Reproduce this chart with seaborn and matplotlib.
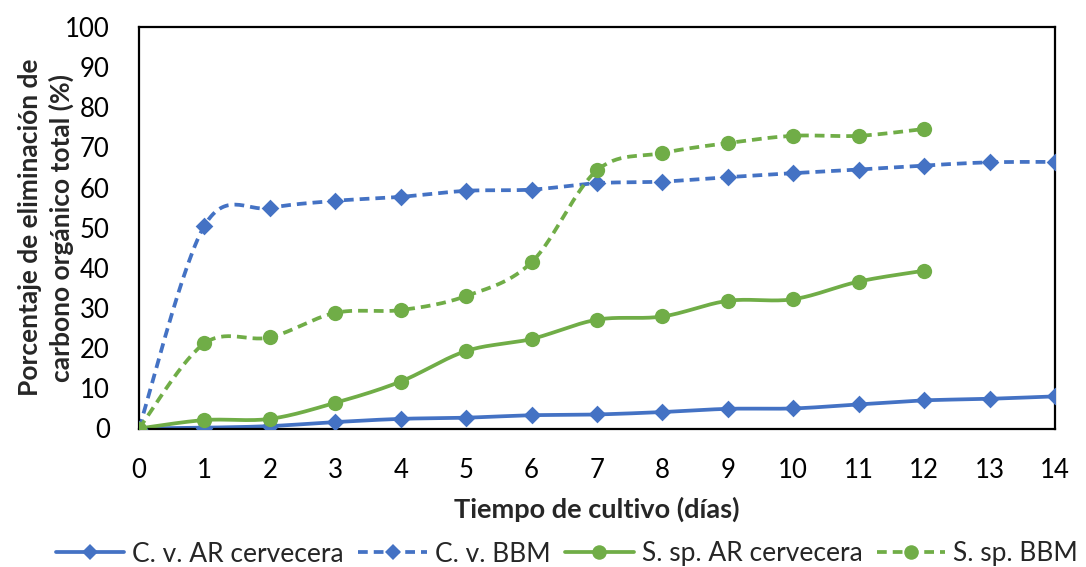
import numpy as np
import pandas as pd
import matplotlib
matplotlib.use("Agg")
import matplotlib.pyplot as plt
from matplotlib.lines import Line2D
import seaborn as sns

# Culture time (days) and TOC removal (%) for each strain / medium
dias_cv = [0, 1, 2, 3, 4, 5, 6, 7, 8, 9, 10, 11, 12, 13, 14]
cv_ar = [0, 0.2, 0.6, 1.6, 2.4, 2.7, 3.3, 3.5, 4.1, 4.9, 5.0, 6.0, 7.0, 7.4, 8.0]
cv_bbm = [0, 50.5, 54.9, 56.7, 57.7, 59.2, 59.5, 61.1, 61.5, 62.6, 63.6, 64.5, 65.5, 66.3, 66.4]

dias_ss = [0, 1, 2, 3, 4, 5, 6, 7, 8, 9, 10, 11, 12]
ss_ar = [0, 2.1, 2.4, 6.4, 11.7, 19.3, 22.3, 27.1, 27.9, 31.8, 32.2, 36.6, 39.3]
ss_bbm = [0, 21.2, 22.7, 28.8, 29.5, 33.0, 41.4, 64.3, 68.6, 71.1, 72.9, 72.9, 74.6]

series_names = ["C. v. AR cervecera", "C. v. BBM", "S. sp. AR cervecera", "S. sp. BBM"]
x_ticks = list(range(0, 15))
y_ticks = list(range(0, 101, 10))

BLUE = "#4472C4"
GREEN = "#70AD47"

sns.set_theme(style="white")
plt.rcParams["font.family"] = ["Lato", "DejaVu Sans"]

W, H = 1086, 567
fig = plt.figure(figsize=(W / 100, H / 100), dpi=100)
ax_rect = [139 / W, 1 - 428.5 / H, 916 / W, 401.5 / H]
ax = fig.add_axes(ax_rect)

# pixel scale of one data unit, so the smoothing follows the drawn shape
sx = 916 / 14
sy = 401.5 / 100


def smooth(x, y, n=30):
    """Cardinal (Catmull-Rom style) spline through the points, as used for smoothed lines."""
    px = np.asarray(x, float) * sx
    py = np.asarray(y, float) * sy
    P = np.column_stack([px, py])
    P = np.vstack([P[0], P, P[-1]])
    out = []
    for i in range(1, len(P) - 2):
        p0, p1, p2, p3 = P[i - 1], P[i], P[i + 1], P[i + 2]
        b1 = p1 + (p2 - p0) / 6.0
        b2 = p2 - (p3 - p1) / 6.0
        t = np.linspace(0, 1, n, endpoint=(i == len(P) - 3))[:, None]
        seg = ((1 - t) ** 3) * p1 + 3 * ((1 - t) ** 2) * t * b1 + 3 * (1 - t) * t ** 2 * b2 + t ** 3 * p2
        out.append(seg)
    c = np.vstack(out)
    return c[:, 0] / sx, c[:, 1] / sy


specs = [
    (dias_cv, cv_ar, BLUE, "-", "D", 9),
    (dias_cv, cv_bbm, BLUE, "--", "D", 9),
    (dias_ss, ss_ar, GREEN, "-", "o", 11),
    (dias_ss, ss_bbm, GREEN, "--", "o", 11),
]

lw = 2.7
dash = (2.6, 1.6)
handles = []
for (xs, ys, col, ls, mk, ms), name in zip(specs, series_names):
    cx, cy = smooth(xs, ys)
    curve = pd.DataFrame({"x": cx, "y": cy})
    sns.lineplot(data=curve, x="x", y="y", ax=ax, color=col, linewidth=lw,
                 sort=False, estimator=None, zorder=2)
    if ls == "--":
        ax.lines[-1].set_dashes(dash)
    pts = pd.DataFrame({"x": xs, "y": ys})
    sns.scatterplot(data=pts, x="x", y="y", ax=ax, color=col, marker=mk,
                    s=ms ** 2, linewidth=0, zorder=3)
    h = Line2D([], [], color=col, linewidth=lw, marker=mk, markersize=ms * 0.95,
               markeredgewidth=0)
    if ls == "--":
        h.set_dashes(dash)
    handles.append(h)

ax.set_xlim(0, 14)
ax.set_ylim(0, 100)
ax.set_xticks(x_ticks)
ax.set_yticks(y_ticks)
ax.tick_params(axis="both", labelsize=18.5, length=0, pad=21, colors="black")
for s in ax.spines.values():
    s.set_visible(True)
    s.set_color("black")
    s.set_linewidth(1.6)
ax.grid(False)

ax.set_xlabel("Tiempo de cultivo (días)", fontsize=19.5, fontweight="bold")
ax.xaxis.set_label_coords(0.5, (428.5 - 497) / 401.5)
ax.set_ylabel("Porcentaje de eliminación de\ncarbono orgánico total (%)",
              fontsize=19, fontweight="bold", linespacing=1.3)
ax.yaxis.set_label_coords((74 - 139) / 916, 0.5)

fig.legend(handles, series_names, loc="center", bbox_to_anchor=(0.522, 1 - 554 / H),
           ncol=4, frameon=False, fontsize=19, handlelength=2.6, columnspacing=0.55,
           handletextpad=0.3, borderpad=0, borderaxespad=0)

fig.savefig("out.png", dpi=100)
